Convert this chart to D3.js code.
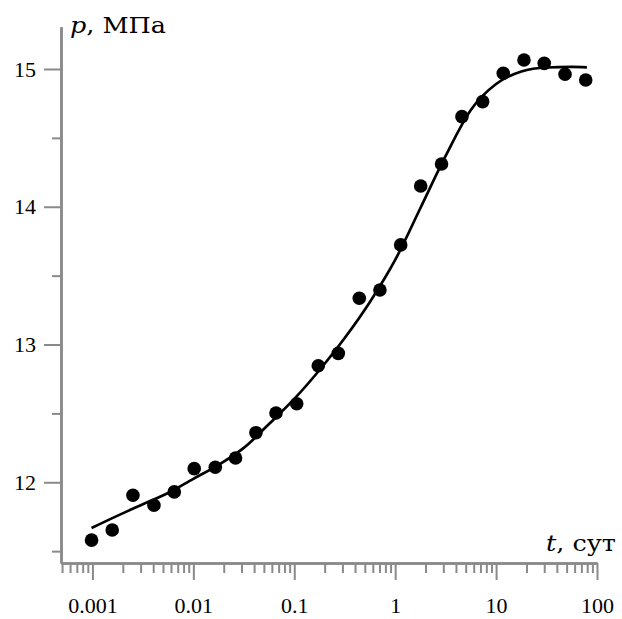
<!DOCTYPE html>
<html>
<head>
<meta charset="utf-8">
<script src="https://cdn.jsdelivr.net/npm/d3@7"></script>
<style>
  body { margin: 0; background: #fff; }
  svg { display: block; }
  text { font-family: "Liberation Serif", "Times New Roman", serif; fill: #000; }
  text.title { font-family: "DejaVu Serif", "Liberation Serif", serif; }
</style>
</head>
<body>
<svg id="chart" width="622" height="619"></svg>
<script>
// Measured pressure p (MPa) versus time t (days)
const measT = [0.00098, 0.00157, 0.00252, 0.00407, 0.00647, 0.0102, 0.0165, 0.0262, 0.0417,
               0.0659, 0.1057, 0.173, 0.273, 0.441, 0.706, 1.134, 1.79, 2.88, 4.59,
               7.36, 11.78, 18.9, 30.0, 48.2, 77.3];
const measP = [11.58, 11.654, 11.906, 11.833, 11.93, 12.099, 12.109, 12.176, 12.36,
               12.503, 12.57, 12.846, 12.936, 13.336, 13.396, 13.723, 14.151, 14.31, 14.654,
               14.763, 14.969, 15.065, 15.041, 14.962, 14.92];

// Fitted curve
const fitT = [0.00098, 0.00178, 0.00316, 0.00562, 0.01, 0.0178, 0.0316, 0.0562, 0.1,
              0.178, 0.316, 0.562, 1, 1.78, 3.16, 5.62, 10, 17.8, 31.6, 56.2, 79.4];
const fitP = [11.668, 11.758, 11.840, 11.922, 12.025, 12.127, 12.25, 12.423, 12.605,
              12.815, 13.047, 13.309, 13.614, 13.991, 14.369, 14.703, 14.891, 14.982, 15.011, 15.015, 15.012];

const xTickValues = [0.001, 0.01, 0.1, 1, 10, 100];
const xTickLabels = ["0.001", "0.01", "0.1", "1", "10", "100"];
const yTickValues = [12, 13, 14, 15];
const yTickLabels = ["12", "13", "14", "15"];
const yMinorValues = [11.5, 12.5, 13.5, 14.5];

const svg = d3.select("#chart");
const axisColor = "#8a8a8a";

const x = d3.scaleLog().domain([0.000488, 100]).range([61, 597]);
const y = d3.scaleLinear().domain([11.414, 15.307]).range([563, 26.7]);

// minor x ticks: the 2..9 multiples inside each decade
const xMinorValues = x.ticks().filter(d => !xTickValues.some(v => Math.abs(v - d) / v < 1e-6));

function styleAxis(g) {
  g.select(".domain").attr("stroke", axisColor).attr("stroke-width", 2.5);
  g.selectAll(".tick line").attr("stroke", axisColor).attr("stroke-width", 2);
  g.selectAll(".tick text").style("font-size", "22px").attr("fill", "#000");
}

// x axis
const gxMinor = svg.append("g").attr("transform", `translate(0,${y.range()[0]})`)
  .call(d3.axisBottom(x).tickValues(xMinorValues).tickSize(10).tickSizeOuter(0).tickFormat(""));
styleAxis(gxMinor);
const gx = svg.append("g").attr("transform", `translate(0,${y.range()[0]})`)
  .call(d3.axisBottom(x).tickValues(xTickValues).tickSize(17).tickSizeOuter(0).tickPadding(17)
    .tickFormat((d, i) => xTickLabels[i]));
styleAxis(gx);

// y axis
const gyMinor = svg.append("g").attr("transform", `translate(${x.range()[0]},0)`)
  .call(d3.axisLeft(y).tickValues(yMinorValues).tickSize(9).tickSizeOuter(0).tickFormat(""));
styleAxis(gyMinor);
const gy = svg.append("g").attr("transform", `translate(${x.range()[0]},0)`)
  .call(d3.axisLeft(y).tickValues(yTickValues).tickSize(17).tickSizeOuter(0).tickPadding(8)
    .tickFormat((d, i) => yTickLabels[i]));
styleAxis(gy);

// axis titles
const yTitle = svg.append("text").attr("class", "title").attr("x", 70).attr("y", 33)
  .attr("textLength", 96).attr("lengthAdjust", "spacingAndGlyphs").style("font-size", "22px");
yTitle.append("tspan").style("font-style", "italic").text("p");
yTitle.append("tspan").text(", МПа");

const xTitle = svg.append("text").attr("class", "title").attr("x", 546).attr("y", 551)
  .attr("textLength", 70).attr("lengthAdjust", "spacingAndGlyphs").style("font-size", "22px");
xTitle.append("tspan").style("font-style", "italic").text("t");
xTitle.append("tspan").text(", сут");

// fitted curve
const fit = fitT.map((t, i) => ({ t, p: fitP[i] }));
svg.append("path")
  .datum(fit)
  .attr("fill", "none")
  .attr("stroke", "#000")
  .attr("stroke-width", 2.7)
  .attr("d", d3.line().x(d => x(d.t)).y(d => y(d.p)).curve(d3.curveMonotoneX));

// measured points
const meas = measT.map((t, i) => ({ t, p: measP[i] }));
svg.append("g").selectAll("circle")
  .data(meas)
  .join("circle")
  .attr("cx", d => x(d.t))
  .attr("cy", d => y(d.p))
  .attr("r", 6.8)
  .attr("fill", "#000");
</script>
</body>
</html>
